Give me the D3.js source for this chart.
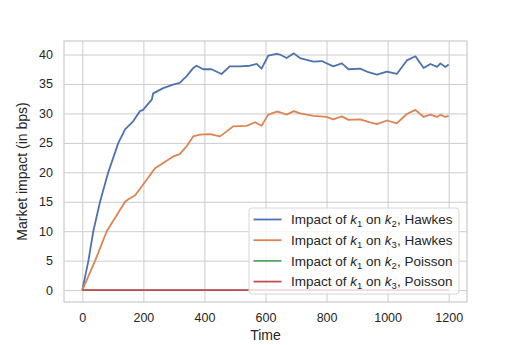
<!DOCTYPE html>
<html>
<head>
<meta charset="utf-8">
<script src="https://cdn.jsdelivr.net/npm/d3@7"></script>
<style>
	body { margin: 0; background: #fff; }
	text { font-family: Arial, 'Liberation Sans', sans-serif; fill: #262626; }
	.grid line { stroke: #cccccc; stroke-width: 1; }
	.grid path { display: none; }
	.tick text { font-size: 12.5px; }
</style>
</head>
<body>
<div id="viz"></div>
<script>
// time grid for the two Hawkes curves
timesHawkes2 = [0, 20, 36, 58, 85, 118, 140, 167, 189, 199, 228, 232, 265, 297, 319, 341, 363, 374, 396, 423, 456, 483, 516, 549, 571, 587, 609, 637, 647, 669, 693, 713, 757, 784, 822, 850, 872, 910, 937, 965, 998, 1030, 1063, 1091, 1118, 1140, 1162, 1173, 1189, 1200];
valuesHawkes2 = [0, 5, 10, 15, 20, 25, 27.3, 28.7, 30.4, 30.6, 32.4, 33.4, 34.3, 34.9, 35.2, 36.3, 37.7, 38.1, 37.5, 37.5, 36.7, 38, 38, 38.1, 38.4, 37.6, 39.8, 40.1, 40, 39.4, 40.2, 39.4, 38.8, 38.9, 38, 38.5, 37.5, 37.6, 37, 36.6, 37.1, 36.7, 39, 39.7, 37.7, 38.4, 37.9, 38.5, 37.9, 38.3];

timesHawkes3 = [0, 42, 80, 140, 150, 173, 206, 238, 271, 298, 319, 341, 363, 385, 418, 451, 494, 538, 566, 587, 609, 637, 647, 669, 693, 713, 757, 800, 822, 850, 872, 910, 943, 965, 998, 1030, 1063, 1091, 1118, 1140, 1162, 1173, 1189, 1200];
valuesHawkes3 = [0, 5, 10, 15, 15.4, 16.1, 18.4, 20.7, 21.8, 22.7, 23.1, 24.4, 26.1, 26.4, 26.5, 26.1, 27.8, 27.9, 28.5, 27.9, 29.8, 30.3, 30.2, 29.8, 30.4, 30, 29.6, 29.4, 29, 29.5, 28.9, 29, 28.5, 28.2, 28.8, 28.3, 29.9, 30.6, 29.4, 29.8, 29.4, 29.8, 29.4, 29.6];

timesPoisson = [0, 1200];
valuesPoisson2 = [0, 0];
valuesPoisson3 = [0, 0];

seriesNames = ['Hawkes', 'Hawkes', 'Poisson', 'Poisson'];
seriesTargets = ['2', '3', '2', '3'];
colors = ['#4c72b0', '#dd8452', '#55a868', '#c44e52'];

xTicks = [0, 200, 400, 600, 800, 1000, 1200];
yTicks = [0, 5, 10, 15, 20, 25, 30, 35, 40];

document.addEventListener("DOMContentLoaded", function() {

	series = [
		d3.zip(timesHawkes2, valuesHawkes2),
		d3.zip(timesHawkes3, valuesHawkes3),
		d3.zip(timesPoisson, valuesPoisson2),
		d3.zip(timesPoisson, valuesPoisson3)
	];

	margin = {top: 41, right: 51, bottom: 43, left: 64};
	width = 518 - margin.left - margin.right;
	height = 345 - margin.top - margin.bottom;

	// matplotlib style 5% padding
	xScale = d3.scaleLinear().domain([-60, 1260]).range([0, width]);
	yScale = d3.scaleLinear().domain([-2.02, 42.3]).range([height, 0]);

	svg = d3.select('#viz').append('svg')
		.attr('width', 518)
		.attr('height', 345)
		.append('g')
		.attr('transform', 'translate(' + margin.left + ',' + margin.top + ')');

	// grid + tick labels
	svg.append('g')
		.attr('class', 'grid')
		.attr('transform', 'translate(0,' + height + ')')
		.call(d3.axisBottom(xScale).tickValues(xTicks).tickFormat(d3.format('d')).tickSize(-height).tickPadding(11));

	svg.append('g')
		.attr('class', 'grid')
		.call(d3.axisLeft(yScale).tickValues(yTicks).tickSize(-width).tickPadding(11));

	svg.selectAll('.tick text').attr('fill', '#262626');

	// frame
	svg.append('rect')
		.attr('width', width)
		.attr('height', height)
		.attr('fill', 'none')
		.attr('stroke', '#cccccc')
		.attr('stroke-width', 1.25);

	line = d3.line()
		.x(d => xScale(d[0]))
		.y(d => yScale(d[1]));

	svg.selectAll('path.series')
		.data(series)
		.enter()
		.append('path')
		.attr('class', 'series')
		.attr('d', line)
		.attr('fill', 'none')
		.attr('stroke', (d, i) => colors[i])
		.attr('stroke-width', 1.8)
		.attr('stroke-linejoin', 'round');

	// axis titles
	svg.append('text')
		.attr('x', width / 2)
		.attr('y', height + 38)
		.attr('text-anchor', 'middle')
		.style('font-size', '14px')
		.text('Time');

	svg.append('text')
		.attr('transform', 'translate(' + (-37) + ',' + (height / 2) + ') rotate(-90)')
		.attr('text-anchor', 'middle')
		.style('font-size', '14px')
		.text('Market impact (in bps)');

	// legend
	legend = svg.append('g')
		.attr('transform', 'translate(' + (249 - margin.left) + ',' + (208 - margin.top) + ')');

	legend.append('rect')
		.attr('width', 210)
		.attr('height', 86)
		.attr('rx', 3)
		.attr('fill', 'rgba(255,255,255,0.8)')
		.attr('stroke', '#d6d6d6')
		.attr('stroke-width', 1);

	rows = legend.selectAll('g.row')
		.data(seriesNames)
		.enter()
		.append('g')
		.attr('class', 'row')
		.attr('transform', (d, i) => 'translate(0,' + (11.5 + i * 20.7) + ')');

	rows.append('line')
		.attr('x1', 4.5)
		.attr('x2', 32.5)
		.attr('stroke', (d, i) => colors[i])
		.attr('stroke-width', 1.8);

	label = rows.append('text')
		.attr('x', 42)
		.attr('y', 4.8)
		.style('font-size', '13.5px');

	label.append('tspan').text('Impact of ');
	label.append('tspan').style('font-style', 'italic').text('k');
	label.append('tspan').attr('dy', 3).style('font-size', '9.5px').text('1');
	label.append('tspan').attr('dy', -3).text(' on ');
	label.append('tspan').style('font-style', 'italic').text('k');
	label.append('tspan').attr('dy', 3).style('font-size', '9.5px').text((d, i) => seriesTargets[i]);
	label.append('tspan').attr('dy', -3).text(d => ', ' + d);

});
</script>
</body>
</html>
